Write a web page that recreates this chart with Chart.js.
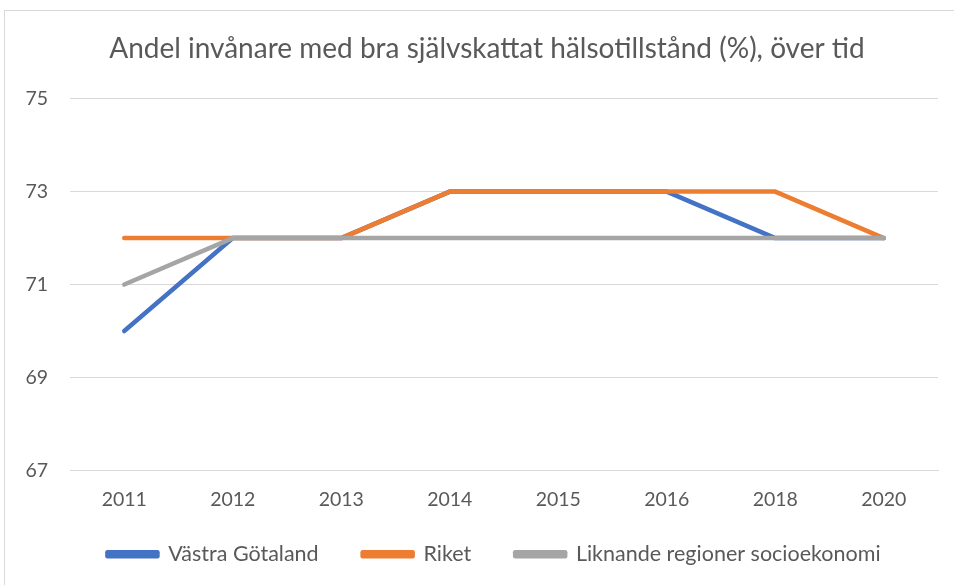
<!DOCTYPE html>
<html>
<head>
<meta charset="utf-8">
<script src="https://cdn.jsdelivr.net/npm/chart.js@4/dist/chart.umd.min.js"></script>
<style>
html,body{margin:0;padding:0;background:#fff;overflow:hidden;}
#wrap{position:absolute;left:0;top:0;width:954px;height:585px;}
#frame{position:absolute;left:4px;top:10px;width:980px;height:620px;border:1px solid #d9d9d9;box-sizing:border-box;}
canvas{position:absolute;left:0;top:0;}
</style>
</head>
<body>
<div id="wrap">
<div id="frame"></div>
<canvas id="c" width="954" height="585"></canvas>
</div>
<script>
const categories = ["2011","2012","2013","2014","2015","2016","2018","2020"];
const vastraGotaland = [70,72,72,73,73,73,72,72];
const riket = [72,72,72,73,73,73,73,72];
const liknande = [71,72,72,72,72,72,72,72];
const seriesNames = ["Västra Götaland","Riket","Liknande regioner socioekonomi"];
const seriesColors = ["#4472C4","#ED7D31","#A5A5A5"];
const titleText = "Andel invånare med bra självskattat hälsotillstånd (%), över tid";

const FONT = "Lato";
const TXT = "#595959";

const values = [vastraGotaland, riket, liknande];
const datasets = values.map((v,i)=>({
  label: seriesNames[i],
  data: v,
  borderColor: seriesColors[i],
  backgroundColor: seriesColors[i],
  borderWidth: 4.5,
  borderCapStyle: 'round',
  borderJoinStyle: 'round',
  pointRadius: 0,
  pointHoverRadius: 0,
  tension: 0,
  fill: false,
  order: 3 - i
}));

const shiftPlugin = {
  id: 'shift',
  afterLayout(chart) {
    if (chart.titleBlock) { chart.titleBlock.left += 18; chart.titleBlock.right += 18; }
    if (chart.legend) {
      chart.legend.left += 25; chart.legend.right += 25;
      chart.legend.top -= 21; chart.legend.bottom -= 21;
    }
  }
};

new Chart(document.getElementById('c'), {
  type: 'line',
  data: { labels: categories, datasets },
  plugins: [shiftPlugin],
  options: {
    responsive: false,
    animation: false,
    devicePixelRatio: 1,
    layout: { padding: { top: 0, right: 16, bottom: -11, left: 0 } },
    plugins: {
      title: {
        display: true,
        text: titleText,
        color: TXT,
        font: { family: FONT, size: 28, weight: 'normal' },
        padding: { top: 32, bottom: 33 }
      },
      legend: {
        display: true,
        position: 'bottom',
        labels: {
          color: TXT,
          font: { family: FONT, size: 21.5 },
          boxWidth: 50,
          boxHeight: 4,
          padding: 44,
          sort: (a,b)=>a.datasetIndex-b.datasetIndex
        }
      },
      tooltip: { enabled: false }
    },
    scales: {
      x: {
        offset: true,
        grid: { display: false, drawTicks: false },
        border: { display: true, color: '#d9d9d9', width: 1 },
        ticks: { color: TXT, font: { family: FONT, size: 19.5 }, padding: 18, maxRotation: 0 },
        afterFit: s => { s.height = 50; }
      },
      y: {
        min: 67, max: 75,
        ticks: { stepSize: 2, color: TXT, font: { family: FONT, size: 19.5 }, padding: 22 },
        grid: { color: '#d9d9d9', lineWidth: 1, drawTicks: false },
        border: { display: false },
        afterFit: s => { s.width = 70; }
      }
    }
  }
});
</script>
</body>
</html>
